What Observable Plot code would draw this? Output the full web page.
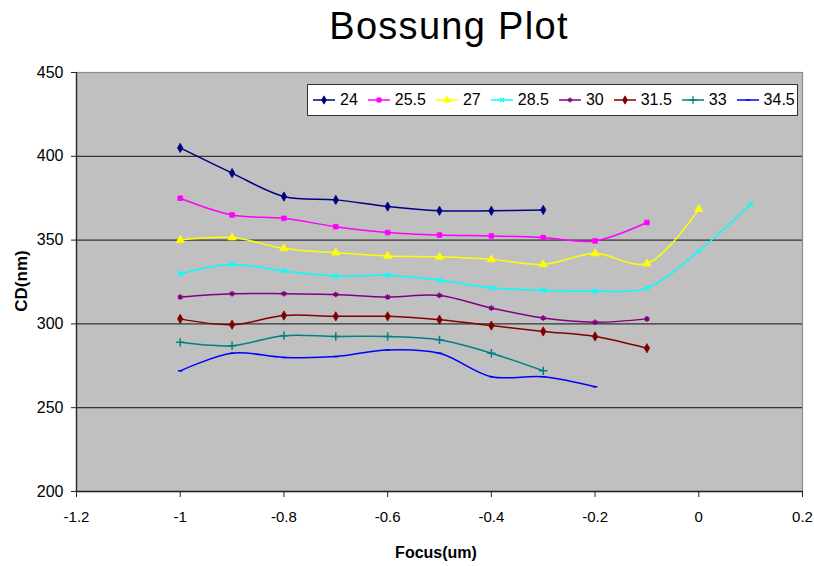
<!DOCTYPE html>
<html>
<head>
<meta charset="utf-8">
<script src="https://cdn.jsdelivr.net/npm/d3@7"></script>
<script src="https://cdn.jsdelivr.net/npm/@observablehq/plot@0.6"></script>
<style>
  html, body { margin: 0; padding: 0; background: #fff; }
  body { font-family: "Liberation Sans", Arial, sans-serif; }
  #wrap { position: relative; width: 814px; height: 566px; overflow: hidden; }
  #title { height: 60px; line-height: 52px; font-size: 38px; letter-spacing: 1.3px;
           padding-left: 84px; text-align: center; color: #000; box-sizing: border-box; }
  #legend { position: absolute; left: 307px; top: 84px; width: 491px; height: 32px;
            box-sizing: border-box; background: #fff; border: 1.5px solid #333;
            display: flex; align-items: center; padding-left: 5px; font-size: 16px; }
  .item { display: flex; align-items: center; margin-right: 10px; }
  .item svg { margin-right: 5px; }
  .axt { position: absolute; font-weight: bold; color: #000; white-space: nowrap; }
</style>
</head>
<body>
<div id="wrap">
  <div id="title">Bossung Plot</div>
  <div id="chart"></div>
  <div id="legend"></div>
  <div class="axt" id="ylab" style="left:22px; top:281px; font-size:17px; transform: translate(-50%,-50%) rotate(-90deg);">CD(nm)</div>
  <div class="axt" id="xlab" style="left:436px; top:553px; font-size:16px; transform: translate(-50%,-50%);">Focus(um)</div>
</div>
<script>
// ---- data ----
const focus = [-1, -0.9, -0.8, -0.7, -0.6, -0.5, -0.4, -0.3, -0.2, -0.1, 0, 0.1];
const seriesNames = ["24", "25.5", "27", "28.5", "30", "31.5", "33", "34.5"];
const s24   = [405, 390, 376, 374, 370, 367.5, 367.5, 368];
const s25_5 = [375, 365, 363, 358, 354.5, 353, 352.5, 351.5, 349.5, 360.5];
const s27   = [350, 351.5, 345, 342.5, 340.5, 340, 338.5, 335.5, 342, 336, 368.5];
const s28_5 = [330, 335.5, 331.5, 328.5, 329, 326, 321.5, 320, 319.5, 321.5, 343.5, 371.5];
const s30   = [316, 318, 318, 317.5, 316, 317, 309.5, 303.5, 301, 303];
const s31_5 = [303, 299.5, 305, 304.5, 304.5, 302.5, 299, 295.5, 292.5, 285.5];
const s33   = [289, 287, 293, 292.5, 292.5, 290.5, 282.5, 272];
const s34_5 = [272, 282.5, 280, 280.5, 284.5, 282.5, 268.5, 268.5, 262.5];
const seriesValues = [s24, s25_5, s27, s28_5, s30, s31_5, s33, s34_5];
const xTicks = [-1.2, -1, -0.8, -0.6, -0.4, -0.2, 0, 0.2];
const yTicks = [200, 250, 300, 350, 400, 450];
const gridTicks = [250, 300, 350, 400];

// ---- styles ----
const seriesColors = ["#000080", "#FF00FF", "#FFFF00", "#00FFFF", "#800080", "#800000", "#008080", "#0000FF"];
const dashSymbol = { draw(ctx, size) { const w = Math.sqrt(size) * 0.5; ctx.moveTo(-w, 0); ctx.lineTo(w, 0); } };
const seriesSymbols = [d3.symbolDiamond, d3.symbolSquare, d3.symbolTriangle, d3.symbolTimes,
                       d3.symbolAsterisk, d3.symbolDiamond, d3.symbolPlus, dashSymbol];
const seriesFilled = [true, true, true, false, false, true, false, false];
const seriesR = [2.8, 2.6, 3.0, 2.2, 2.6, 2.8, 2.8, 2.6];

const rows = [];
seriesNames.forEach((name, i) => {
  seriesValues[i].forEach((v, j) => rows.push({ series: name, idx: i, focus: focus[j], cd: v }));
});

const xDomain = [xTicks[0], xTicks[xTicks.length - 1]];
const yDomain = [yTicks[0], yTicks[yTicks.length - 1]];

const marks = [
  Plot.frame({ fill: "#C0C0C0", stroke: "#8c8c8c", strokeWidth: 1.2 }),
  Plot.gridY(gridTicks, { stroke: "#333", strokeOpacity: 1, strokeWidth: 1.3 }),
  Plot.ruleX([xDomain[0]], { stroke: "#222", strokeWidth: 1.3 }),
  Plot.ruleY([yDomain[0]], { stroke: "#222", strokeWidth: 1.3 }),
  Plot.axisX(xTicks, { tickSize: 6, tickPadding: 14, label: null, fontSize: 15, tickFormat: d => String(d), stroke: "#222" }),
  Plot.axisY(yTicks, { tickSize: 5, tickPadding: 8, label: null, fontSize: 16, tickFormat: d => String(d), stroke: "#222" })
];
seriesNames.forEach((name, i) => {
  const data = rows.filter(r => r.idx === i);
  marks.push(Plot.line(data, { x: "focus", y: "cd", stroke: seriesColors[i], strokeWidth: 1.5, curve: "catmull-rom" }));
});
seriesNames.forEach((name, i) => {
  const data = rows.filter(r => r.idx === i);
  marks.push(Plot.dot(data, {
    x: "focus", y: "cd", r: seriesR[i], symbol: seriesSymbols[i],
    fill: seriesFilled[i] ? seriesColors[i] : "none",
    stroke: seriesColors[i], strokeWidth: seriesFilled[i] ? 0.8 : 1.5
  }));
});

const chart = Plot.plot({
  width: 814, height: 506,
  marginTop: 12, marginLeft: 76, marginRight: 12, marginBottom: 75,
  x: { domain: xDomain, label: null },
  y: { domain: yDomain, label: null },
  style: { fontFamily: "'Liberation Sans', Arial, sans-serif", fontSize: "16px", color: "#000", background: "transparent", overflow: "visible" },
  marks
});
document.getElementById("chart").appendChild(chart);

// ---- legend ----
const legend = d3.select("#legend");
seriesNames.forEach((name, i) => {
  const item = legend.append("div").attr("class", "item");
  const svg = item.append("svg").attr("width", 22).attr("height", 12);
  svg.append("line").attr("x1", 0).attr("x2", 22).attr("y1", 6).attr("y2", 6)
     .attr("stroke", seriesColors[i]).attr("stroke-width", 1.5);
  const size = Math.PI * seriesR[i] * seriesR[i] * 0.8;
  svg.append("path").attr("transform", "translate(11,6)")
     .attr("d", d3.symbol(seriesSymbols[i], size)())
     .attr("fill", seriesFilled[i] ? seriesColors[i] : "none")
     .attr("stroke", seriesColors[i]).attr("stroke-width", seriesFilled[i] ? 0.8 : 1.3);
  item.append("span").text(name);
});
</script>
</body>
</html>
